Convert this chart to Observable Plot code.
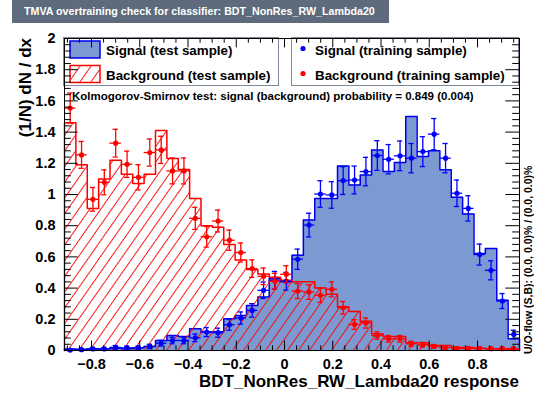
<!DOCTYPE html>
<html>
<head>
<meta charset="utf-8">
<script src="https://cdn.jsdelivr.net/npm/d3@7"></script>
<script src="https://cdn.jsdelivr.net/npm/@observablehq/plot@0.6"></script>
<style>
  body { margin: 0; background: #ffffff; }
  #wrap { position: relative; width: 534px; height: 399px; overflow: hidden; }
  #wrap svg { position: absolute; left: 0; top: 0; }
</style>
</head>
<body>
<div id="wrap"></div>
<script>
// ---------------- data ----------------
const xMin = -0.912, xMax = 0.974, nBins = 40;
const titleText = "TMVA overtraining check for classifier: BDT_NonRes_RW_Lambda20";
const xTitle = "BDT_NonRes_RW_Lambda20 response";
const yTitle = "(1/N) dN / dx";
const ksText = "Kolmogorov-Smirnov test: signal (background) probability = 0.849 (0.004)";
const uoText = "U/O-flow (S,B): (0.0, 0.0)% / (0.0, 0.0)%";
const legendLabels = ["Signal (test sample)", "Background (test sample)", "Signal (training sample)", "Background (training sample)"];
const xTicks = [-0.8, -0.6, -0.4, -0.2, 0, 0.2, 0.4, 0.6, 0.8];
const yTicks = [0, 0.2, 0.4, 0.6, 0.8, 1, 1.2, 1.4, 1.6, 1.8, 2];

// signal, test sample (filled histogram)
const sigTest = [0.010, 0.008, 0.012, 0.010, 0.015, 0.012, 0.018, 0.026, 0.064, 0.096,
                 0.090, 0.140, 0.120, 0.120, 0.204, 0.225, 0.289, 0.343, 0.461, 0.440,
                 0.611, 0.836, 0.975, 0.975, 1.183, 1.061, 1.125, 1.286, 1.147, 1.205,
                 1.500, 1.243, 1.280, 1.158, 0.982, 0.875, 0.622, 0.654, 0.322, 0.075];
// signal, training sample (points)
const sigTrain = [0.003, 0.005, 0.010, 0.010, 0.020, 0.017, 0.017, 0.026, 0.047, 0.064,
                  0.064, 0.081, 0.118, 0.114, 0.165, 0.208, 0.257, 0.386, 0.450, 0.444,
                  0.585, 0.804, 1.003, 0.997, 1.089, 1.093, 1.147, 1.250, 1.226, 1.248,
                  1.233, 1.275, 1.387, 1.233, 1.008, 0.911, 0.615, 0.514, 0.317, 0.103];
const sigErr = [0.005, 0.006, 0.009, 0.009, 0.012, 0.011, 0.011, 0.014, 0.018, 0.021,
                0.021, 0.024, 0.029, 0.029, 0.035, 0.039, 0.043, 0.053, 0.057, 0.057,
                0.065, 0.076, 0.085, 0.085, 0.089, 0.089, 0.091, 0.095, 0.094, 0.095,
                0.094, 0.096, 0.100, 0.094, 0.085, 0.081, 0.067, 0.061, 0.048, 0.027];
// background, test sample (hatched histogram)
const bkgTest = [1.460, 1.190, 0.910, 1.100, 1.220, 1.130, 1.070, 1.130, 1.410, 1.230,
                 1.160, 0.975, 0.800, 0.790, 0.680, 0.580, 0.520, 0.490, 0.470, 0.450,
                 0.440, 0.440, 0.400, 0.360, 0.280, 0.250, 0.187, 0.107, 0.090, 0.090,
                 0.050, 0.050, 0.032, 0.032, 0.020, 0.020, 0.015, 0.012, 0.010, 0.010];
// background, training sample (points)
const bkgTrain = [1.554, 1.254, 0.969, 1.078, 1.329, 1.194, 1.110, 1.269, 1.286, 1.151,
                  1.151, 0.847, 0.729, 0.830, 0.707, 0.628, 0.525, 0.476, 0.444, 0.489,
                  0.381, 0.375, 0.354, 0.392, 0.274, 0.167, 0.176, 0.096, 0.075, 0.075,
                  0.043, 0.037, 0.026, 0.019, 0.013, 0.013, 0.013, 0.012, 0.012, 0.012];
const bkgErr = [0.096, 0.086, 0.076, 0.080, 0.089, 0.084, 0.081, 0.087, 0.087, 0.083,
                0.083, 0.071, 0.066, 0.070, 0.065, 0.061, 0.056, 0.053, 0.051, 0.054,
                0.048, 0.047, 0.046, 0.048, 0.040, 0.031, 0.032, 0.024, 0.021, 0.021,
                0.016, 0.015, 0.012, 0.011, 0.009, 0.009, 0.009, 0.0085, 0.0085, 0.0085];

// ---------------- styling ----------------
const FONT = "'Liberation Sans', Arial, Helvetica, sans-serif";
const W = 534, H = 399;
const M = {left: 64, right: 15, top: 38, bottom: 49};
const sigFill = "#7d99d1", sigLine = "#0000ee", bkgLine = "#ff0000";

// ---------------- derived table ----------------
const bw = (xMax - xMin) / nBins;
const bins = sigTest.map((_, i) => ({
  x1: xMin + i * bw, x2: xMin + (i + 1) * bw, xc: xMin + (i + 0.5) * bw,
  sT: sigTest[i], sR: sigTrain[i], sE: sigErr[i],
  bT: bkgTest[i], bR: bkgTrain[i], bE: bkgErr[i]
}));
function stepPts(key) {
  const pts = [{x: xMin, y: 0}];
  bins.forEach(b => { pts.push({x: b.x1, y: b[key]}); pts.push({x: b.x2, y: b[key]}); });
  pts.push({x: xMax, y: 0});
  return pts;
}
const pxX = (W - M.left - M.right) / (xMax - xMin);   // px per x unit
const pxY = (H - M.top - M.bottom) / 2;                // px per y unit
const capX = 2.6 / pxX;
const xTickMaj = 9.4 / pxY, xTickMin = 4.7 / pxY;
const yTickMaj = 13.7 / pxX, yTickMin = 6.8 / pxX;
const xMinor = d3.range(-0.9, 0.96, 0.05).map(v => +v.toFixed(2)).filter(v => !xTicks.some(t => Math.abs(t - v) < 1e-6));
const yMinor = d3.range(0, 2.0001, 0.04).map(v => +v.toFixed(2)).filter(v => !yTicks.some(t => Math.abs(t - v) < 1e-6));
const fmt = d => d === 0 ? "0" : (d < 0 ? "\u2212" : "") + String(+Math.abs(d).toFixed(2));

function errMarks(vKey, eKey, color) {
  return [
    Plot.ruleY(bins, {x1: "x1", x2: "x2", y: vKey, stroke: color, strokeWidth: 1.3}),
    Plot.ruleX(bins, {x: "xc", y1: d => d[vKey] - d[eKey], y2: d => d[vKey] + d[eKey], stroke: color, strokeWidth: 1.3}),
    Plot.ruleY(bins, {x1: d => d.xc - capX, x2: d => d.xc + capX, y: d => d[vKey] + d[eKey], stroke: color, strokeWidth: 1.3}),
    Plot.ruleY(bins, {x1: d => d.xc - capX, x2: d => d.xc + capX, y: d => d[vKey] - d[eKey], stroke: color, strokeWidth: 1.3}),
    Plot.dot(bins, {x: "xc", y: vKey, r: 2.6, fill: color, stroke: null})
  ];
}

// ---------------- annotation layer (behind chart) ----------------
const wrap = d3.select("#wrap");
const anno = wrap.append("svg").attr("width", W).attr("height", H)
  .style("font-family", FONT).style("font-weight", "bold");
const adefs = anno.append("defs");
const lp = adefs.append("pattern").attr("id", "legHatch").attr("patternUnits", "userSpaceOnUse")
  .attr("width", 9).attr("height", 9).attr("patternTransform", "rotate(35)");
lp.append("line").attr("x1", 4.5).attr("x2", 4.5).attr("y1", 0).attr("y2", 9).attr("stroke", bkgLine).attr("stroke-width", 0.9);

anno.append("rect").attr("x", 12).attr("y", 0).attr("width", 377).attr("height", 23).attr("fill", "#5D6B7D");
anno.append("text").attr("x", 24).attr("y", 15).attr("fill", "#ffffff").attr("font-size", "10.7px").text(titleText);

anno.append("rect").attr("x", 63.5).attr("y", 37.5).attr("width", 215).attr("height", 48)
  .attr("fill", "#ffffff").attr("stroke", "#7D8B9D").attr("stroke-width", 1);
anno.append("rect").attr("x", 291.5).attr("y", 37.5).attr("width", 227).attr("height", 48)
  .attr("fill", "#ffffff").attr("stroke", "#7D8B9D").attr("stroke-width", 1);

anno.append("rect").attr("x", 70).attr("y", 41).attr("width", 30).attr("height", 17)
  .attr("fill", sigFill).attr("stroke", sigLine).attr("stroke-width", 1.5);
anno.append("rect").attr("x", 70).attr("y", 65.5).attr("width", 30).attr("height", 17)
  .attr("fill", "url(#legHatch)").attr("stroke", bkgLine).attr("stroke-width", 1.5);
anno.append("circle").attr("cx", 303).attr("cy", 48.5).attr("r", 2.6).attr("fill", sigLine);
anno.append("circle").attr("cx", 303).attr("cy", 73.5).attr("r", 2.6).attr("fill", bkgLine);
[[106, 55, 0], [106, 79.5, 1], [315, 55, 2], [315, 79.5, 3]].forEach(([x, y, i]) => {
  anno.append("text").attr("x", x).attr("y", y).attr("font-size", "13.4px").attr("fill", "#000").text(legendLabels[i]);
});
anno.append("text").attr("x", 72).attr("y", 100).attr("font-size", "11.5px").attr("fill", "#000").text(ksText);
anno.append("text").attr("transform", "translate(31,38) rotate(-90)").attr("text-anchor", "end")
  .attr("font-size", "17px").attr("fill", "#000").text(yTitle);
anno.append("text").attr("x", 519).attr("y", 387).attr("text-anchor", "end")
  .attr("font-size", "17px").attr("fill", "#000").text(xTitle);
anno.append("text").attr("transform", "translate(531.5,354) rotate(-90)").attr("text-anchor", "start")
  .attr("font-size", "10.5px").attr("fill", "#000").text(uoText);

// ---------------- chart ----------------
const chart = Plot.plot({
  width: W, height: H,
  marginLeft: M.left, marginRight: M.right, marginTop: M.top, marginBottom: M.bottom,
  x: {domain: [xMin, xMax]},
  y: {domain: [0, 2]},
  style: {fontFamily: FONT, fontWeight: "bold", fontSize: "14.5px", background: "transparent", color: "#000", overflow: "visible"},
  marks: [
    Plot.areaY(stepPts("sT"), {x: "x", y1: 0, y2: "y", fill: sigFill}),
    Plot.line(stepPts("sT"), {x: "x", y: "y", stroke: sigLine, strokeWidth: 1.5}),
    Plot.areaY(stepPts("bT"), {x: "x", y1: 0, y2: "y", fill: "url(#bkgHatch)"}),
    Plot.line(stepPts("bT"), {x: "x", y: "y", stroke: bkgLine, strokeWidth: 1.5}),
    ...errMarks("sR", "sE", "#0000ff"),
    ...errMarks("bR", "bE", bkgLine),
    Plot.frame({stroke: "#000", strokeWidth: 1}),
    // inside ticks, bottom & top
    Plot.ruleX(xTicks, {x: d => d, y1: 0, y2: xTickMaj, stroke: "#000"}),
    Plot.ruleX(xMinor, {x: d => d, y1: 0, y2: xTickMin, stroke: "#000"}),
    Plot.ruleX(xTicks, {x: d => d, y1: 2 - xTickMaj, y2: 2, stroke: "#000"}),
    Plot.ruleX(xMinor, {x: d => d, y1: 2 - xTickMin, y2: 2, stroke: "#000"}),
    // inside ticks, left & right
    Plot.ruleY(yTicks, {y: d => d, x1: xMin, x2: xMin + yTickMaj, stroke: "#000"}),
    Plot.ruleY(yMinor, {y: d => d, x1: xMin, x2: xMin + yTickMin, stroke: "#000"}),
    Plot.ruleY(yTicks, {y: d => d, x1: xMax - yTickMaj, x2: xMax, stroke: "#000"}),
    Plot.ruleY(yMinor, {y: d => d, x1: xMax - yTickMin, x2: xMax, stroke: "#000"}),
    Plot.axisX({ticks: xTicks, tickSize: 0, tickPadding: 8, tickFormat: fmt, label: null}),
    Plot.axisY({ticks: yTicks, tickSize: 0, tickPadding: 9, tickFormat: fmt, label: null})
  ]
});
wrap.node().appendChild(chart);
const cdefs = d3.select(chart).insert("defs", ":first-child");
const bp = cdefs.append("pattern").attr("id", "bkgHatch").attr("patternUnits", "userSpaceOnUse")
  .attr("width", 9).attr("height", 9).attr("patternTransform", "rotate(35)");
bp.append("line").attr("x1", 4.5).attr("x2", 4.5).attr("y1", 0).attr("y2", 9).attr("stroke", bkgLine).attr("stroke-width", 0.9);
</script>
</body>
</html>
